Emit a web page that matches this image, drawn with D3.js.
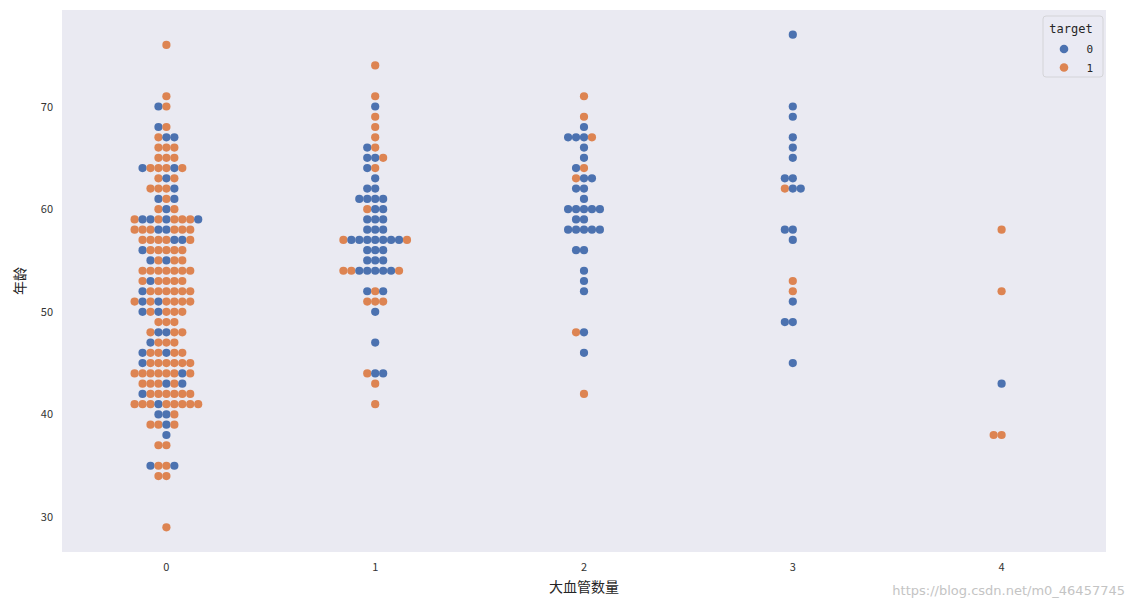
<!DOCTYPE html>
<html>
<head>
<meta charset="utf-8">
<script src="https://cdn.jsdelivr.net/npm/d3@7"></script>
<style>
  body { margin: 0; background: #fff; }
  svg { display: block; }
</style>
</head>
<body>
<svg id="chart" width="1133" height="608"></svg>
<script>
// ---- data ----
const categories = ["0", "1", "2", "3", "4"];
const hues = ["0", "1"];
const yTicks = [30, 40, 50, 60, 70];
// each row: [age, targets of the points at that age, left to right]
const swarmCa0 = [
  [76, "1"], [71, "1"], [70, "01"], [68, "01"], [67, "100"], [66, "111"], [65, "111"],
  [64, "011101"], [63, "101"], [62, "1110"], [61, "010"], [60, "101"],
  [59, "100101110"], [58, "11100111"], [57, "1111001"], [56, "011111"], [55, "01011"],
  [54, "1111111"], [53, "101111"], [52, "0111111"], [51, "10101111"], [50, "010111"],
  [49, "111"], [48, "10011"], [47, "0111"], [46, "011011"], [45, "0111111"],
  [44, "11111101"], [43, "111010"], [42, "0111111"], [41, "111011111"], [40, "001"],
  [39, "1101"], [38, "0"], [37, "11"], [35, "0110"], [34, "11"], [29, "1"]
];
const swarmCa1 = [
  [74, "1"], [71, "1"], [70, "0"], [69, "1"], [68, "1"], [67, "1"], [66, "01"],
  [65, "001"], [64, "01"], [63, "0"], [62, "00"], [61, "0000"], [60, "100"],
  [59, "000"], [58, "000"], [57, "100000001"], [56, "000"], [55, "000"],
  [54, "11000001"], [52, "010"], [51, "111"], [50, "0"], [47, "0"], [44, "100"],
  [43, "1"], [41, "1"]
];
const swarmCa2 = [
  [71, "1"], [69, "1"], [68, "0"], [67, "0001"], [66, "0"], [65, "0"], [64, "01"],
  [63, "100"], [62, "00"], [61, "0"], [60, "00000"], [59, "00"], [58, "00000"],
  [56, "00"], [54, "0"], [53, "0"], [52, "0"], [48, "10"], [46, "0"], [42, "1"]
];
const swarmCa3 = [
  [77, "0"], [70, "0"], [69, "0"], [67, "0"], [66, "0"], [65, "0"], [63, "00"],
  [62, "100"], [58, "00"], [57, "0"], [53, "1"], [52, "1"], [51, "0"], [49, "00"], [45, "0"]
];
const swarmCa4 = [
  [58, "1"], [52, "1"], [43, "0"], [38, "11"]
];
const swarms = [swarmCa0, swarmCa1, swarmCa2, swarmCa3, swarmCa4];

// ---- layout ----
const W = 1133, H = 608;
const plot = { left: 62, right: 1106, top: 10, bottom: 552 };
const colors = { "0": "#4C72B0", "1": "#DD8452" };
const R = 4.1, SPACING = 7.95;

const svg = d3.select("#chart");

const x = d3.scaleBand().domain(categories).range([plot.left, plot.right]).padding(0);
const y = d3.scaleLinear().domain([26.6, 79.4]).range([plot.bottom, plot.top]);

svg.append("rect")
  .attr("x", plot.left).attr("y", plot.top)
  .attr("width", plot.right - plot.left).attr("height", plot.bottom - plot.top)
  .attr("fill", "#EAEAF2");

// build points (swarm rows: centre, then alternating left / right)
const points = [];
swarms.forEach((rows, ci) => {
  rows.forEach(([age, seq]) => {
    const n = seq.length;
    const shift = Math.ceil((n - 1) / 2);
    for (let i = 0; i < n; i++) {
      points.push({ cat: categories[ci], age, target: seq[i], off: i - shift });
    }
  });
});

svg.append("g").selectAll("circle").data(points).join("circle")
  .attr("cx", d => x(d.cat) + x.bandwidth() / 2 + d.off * SPACING)
  .attr("cy", d => y(d.age))
  .attr("r", R)
  .attr("fill", d => colors[d.target]);

// axes
const font = "'Noto Sans CJK SC', 'DejaVu Sans', sans-serif";
const xAxis = svg.append("g")
  .attr("transform", `translate(0,${plot.bottom})`)
  .call(d3.axisBottom(x).tickSize(0).tickPadding(11));
const yAxis = svg.append("g")
  .attr("transform", `translate(${plot.left},0)`)
  .call(d3.axisLeft(y).tickValues(yTicks).tickSize(0).tickPadding(9));
[xAxis, yAxis].forEach(g => {
  g.select(".domain").remove();
  g.selectAll("text").attr("fill", "#333333").style("font-size", "11px").style("font-family", font);
});

svg.append("text")
  .attr("x", (plot.left + plot.right) / 2).attr("y", 592)
  .attr("text-anchor", "middle").attr("fill", "#262626")
  .style("font-size", "14px").style("font-family", font)
  .text("大血管数量");

svg.append("text")
  .attr("transform", `translate(25,${(plot.top + plot.bottom) / 2}) rotate(-90)`)
  .attr("text-anchor", "middle").attr("fill", "#262626")
  .style("font-size", "14px").style("font-family", font)
  .text("年龄");

// legend
const lg = svg.append("g").attr("transform", "translate(1043,16)");
lg.append("rect").attr("x", 0).attr("y", 0).attr("width", 60).attr("height", 61)
  .attr("rx", 3).attr("fill", "#EAEAF2").attr("fill-opacity", 0.8)
  .attr("stroke", "#d4d4d8").attr("stroke-width", 1);
lg.append("text").attr("x", 28).attr("y", 17).attr("text-anchor", "middle")
  .attr("fill", "#262626").style("font-size", "12px")
  .style("font-family", "'DejaVu Sans Mono', monospace").text("target");
hues.forEach((h, i) => {
  lg.append("circle").attr("cx", 21).attr("cy", 33 + i * 18.5).attr("r", 4.3).attr("fill", colors[h]);
  lg.append("text").attr("x", 50).attr("y", 37 + i * 18.5).attr("text-anchor", "end")
    .attr("fill", "#262626").style("font-size", "11px")
    .style("font-family", "'DejaVu Sans Mono', monospace").text(h);
});

// watermark
svg.append("text")
  .attr("x", 1125).attr("y", 595).attr("text-anchor", "end")
  .attr("fill", "#c4c4c4").attr("stroke", "#ffffff").attr("stroke-width", 0.6).attr("paint-order", "stroke")
  .style("font-size", "13px").style("font-family", "'DejaVu Sans', sans-serif")
  .text("https://blog.csdn.net/m0_46457745");
</script>
</body>
</html>
